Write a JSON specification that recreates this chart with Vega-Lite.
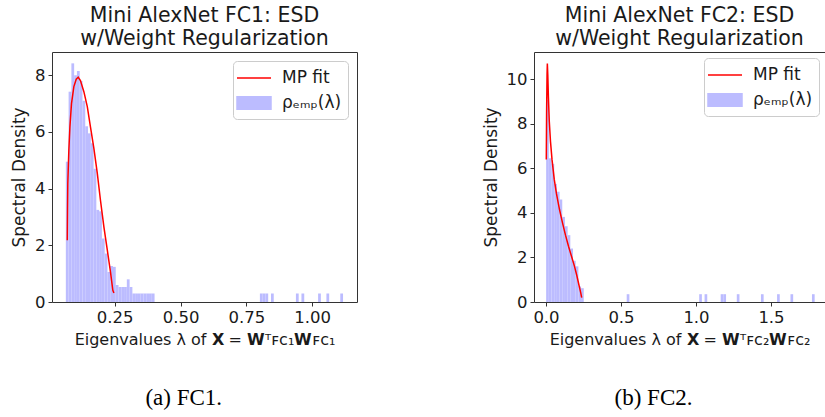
{
  "$schema": "https://vega.github.io/schema/vega-lite/v6.json",
  "padding": {"left": 10, "top": 5, "right": 0, "bottom": 0},
  "spacing": 123,
  "background": "white",
  "datasets": {
    "hist1": [
      {"lo": 0.0645, "hi": 0.0750, "density": 4.95},
      {"lo": 0.0750, "hi": 0.0856, "density": 7.42},
      {"lo": 0.0856, "hi": 0.0961, "density": 8.42},
      {"lo": 0.0961, "hi": 0.1066, "density": 8.0},
      {"lo": 0.1066, "hi": 0.1172, "density": 8.15},
      {"lo": 0.1172, "hi": 0.1277, "density": 7.8},
      {"lo": 0.1277, "hi": 0.1382, "density": 7.1},
      {"lo": 0.1382, "hi": 0.1487, "density": 6.2},
      {"lo": 0.1487, "hi": 0.1593, "density": 5.95},
      {"lo": 0.1593, "hi": 0.1698, "density": 5.6},
      {"lo": 0.1698, "hi": 0.1803, "density": 4.7},
      {"lo": 0.1803, "hi": 0.1909, "density": 3.25},
      {"lo": 0.1909, "hi": 0.2014, "density": 3.2},
      {"lo": 0.2014, "hi": 0.2119, "density": 2.24},
      {"lo": 0.2119, "hi": 0.2224, "density": 1.71},
      {"lo": 0.2224, "hi": 0.2330, "density": 1.06},
      {"lo": 0.2330, "hi": 0.2435, "density": 1.27},
      {"lo": 0.2435, "hi": 0.2540, "density": 1.24},
      {"lo": 0.2540, "hi": 0.2646, "density": 0.6},
      {"lo": 0.2646, "hi": 0.2751, "density": 0.53},
      {"lo": 0.2751, "hi": 0.2856, "density": 0.53},
      {"lo": 0.2856, "hi": 0.2961, "density": 0.53},
      {"lo": 0.2961, "hi": 0.3067, "density": 0.8},
      {"lo": 0.3067, "hi": 0.3172, "density": 0.53},
      {"lo": 0.3172, "hi": 0.3277, "density": 0.3},
      {"lo": 0.3277, "hi": 0.3383, "density": 0.3},
      {"lo": 0.3383, "hi": 0.3488, "density": 0.3},
      {"lo": 0.3488, "hi": 0.3593, "density": 0.3},
      {"lo": 0.3593, "hi": 0.3698, "density": 0.3},
      {"lo": 0.3698, "hi": 0.3804, "density": 0.3},
      {"lo": 0.3804, "hi": 0.3909, "density": 0.3},
      {"lo": 0.3909, "hi": 0.4014, "density": 0.3},
      {"lo": 0.8013, "hi": 0.8118, "density": 0.3},
      {"lo": 0.8118, "hi": 0.8223, "density": 0.3},
      {"lo": 0.8223, "hi": 0.8328, "density": 0.3},
      {"lo": 0.8434, "hi": 0.8539, "density": 0.3},
      {"lo": 0.9381, "hi": 0.9486, "density": 0.3},
      {"lo": 0.9591, "hi": 0.9697, "density": 0.3},
      {"lo": 1.0223, "hi": 1.0328, "density": 0.3},
      {"lo": 1.0539, "hi": 1.0644, "density": 0.3},
      {"lo": 1.1065, "hi": 1.1170, "density": 0.3}
    ],
    "curve1": [
      {"lam": 0.070, "density": 2.18},
      {"lam": 0.071, "density": 3.3},
      {"lam": 0.072, "density": 4.18},
      {"lam": 0.076, "density": 5.36},
      {"lam": 0.080, "density": 6.18},
      {"lam": 0.086, "density": 7.0},
      {"lam": 0.095, "density": 7.6},
      {"lam": 0.104, "density": 7.86},
      {"lam": 0.1115, "density": 7.93},
      {"lam": 0.120, "density": 7.81},
      {"lam": 0.133, "density": 7.42},
      {"lam": 0.146, "density": 6.89},
      {"lam": 0.158, "density": 6.18},
      {"lam": 0.171, "density": 5.42},
      {"lam": 0.184, "density": 4.54},
      {"lam": 0.196, "density": 3.59},
      {"lam": 0.209, "density": 2.65},
      {"lam": 0.222, "density": 1.83},
      {"lam": 0.234, "density": 1.06},
      {"lam": 0.243, "density": 0.41},
      {"lam": 0.247, "density": 0.32}
    ],
    "hist2": [
      {"lo": 0.0010, "hi": 0.0189, "density": 9.06},
      {"lo": 0.0189, "hi": 0.0368, "density": 6.45},
      {"lo": 0.0368, "hi": 0.0547, "density": 6.2},
      {"lo": 0.0547, "hi": 0.0726, "density": 5.3},
      {"lo": 0.0726, "hi": 0.0905, "density": 4.95},
      {"lo": 0.0905, "hi": 0.1084, "density": 4.6},
      {"lo": 0.1084, "hi": 0.1263, "density": 3.82},
      {"lo": 0.1263, "hi": 0.1442, "density": 3.4},
      {"lo": 0.1442, "hi": 0.1621, "density": 3.0},
      {"lo": 0.1621, "hi": 0.1800, "density": 2.4},
      {"lo": 0.1800, "hi": 0.1979, "density": 1.85},
      {"lo": 0.1979, "hi": 0.2158, "density": 1.6},
      {"lo": 0.2158, "hi": 0.2337, "density": 0.7},
      {"lo": 0.2337, "hi": 0.2516, "density": 0.62},
      {"lo": 0.5380, "hi": 0.5559, "density": 0.35},
      {"lo": 1.0213, "hi": 1.0392, "density": 0.35},
      {"lo": 1.0571, "hi": 1.0750, "density": 0.35},
      {"lo": 1.1645, "hi": 1.1824, "density": 0.35},
      {"lo": 1.1824, "hi": 1.2003, "density": 0.35},
      {"lo": 1.2719, "hi": 1.2898, "density": 0.35},
      {"lo": 1.4330, "hi": 1.4509, "density": 0.35},
      {"lo": 1.5404, "hi": 1.5583, "density": 0.35},
      {"lo": 1.6299, "hi": 1.6478, "density": 0.35},
      {"lo": 1.7731, "hi": 1.7910, "density": 0.35}
    ],
    "curve2": [
      {"lam": 0.002, "density": 6.4},
      {"lam": 0.004, "density": 8.5},
      {"lam": 0.007, "density": 10.2},
      {"lam": 0.009, "density": 10.7},
      {"lam": 0.012, "density": 10.2},
      {"lam": 0.016, "density": 9.2},
      {"lam": 0.022, "density": 8.1},
      {"lam": 0.030, "density": 7.2},
      {"lam": 0.040, "density": 6.4},
      {"lam": 0.055, "density": 5.5},
      {"lam": 0.070, "density": 4.85},
      {"lam": 0.090, "density": 4.15},
      {"lam": 0.110, "density": 3.55},
      {"lam": 0.130, "density": 3.0},
      {"lam": 0.150, "density": 2.5},
      {"lam": 0.170, "density": 2.05},
      {"lam": 0.190, "density": 1.6},
      {"lam": 0.205, "density": 1.2},
      {"lam": 0.220, "density": 0.75},
      {"lam": 0.232, "density": 0.4},
      {"lam": 0.238, "density": 0.2}
    ]
  },
  "config": {
    "font": "DejaVu Sans",
    "view": {"stroke": "#333333", "strokeWidth": 1},
    "axis": {
      "domain": false, "grid": false, "tickColor": "#333333", "tickSize": 4, "tickWidth": 1,
      "labelFont": "DejaVu Sans", "labelFontSize": 16.5, "labelColor": "#1a1a1a", "labelPadding": 3,
      "titleFont": "DejaVu Sans", "titleFontSize": 17, "titleFontWeight": "normal", "titleColor": "#1a1a1a",
      "labelFlush": false, "labelOverlap": false
    },
    "axisX": {"titlePadding": 6, "titleFontSize": 16},
    "axisY": {"titlePadding": 6},
    "title": {"font": "DejaVu Sans", "fontSize": 20.5, "fontWeight": "normal", "color": "#1a1a1a", "lineHeight": 23, "offset": 3, "anchor": "middle"},
    "legend": {
      "orient": "top-right", "offset": 9, "padding": 6, "strokeColor": "#cccccc", "fillColor": "#ffffff",
      "cornerRadius": 4, "labelFont": "DejaVu Sans", "labelFontSize": 17, "labelColor": "#1a1a1a",
      "symbolSize": 400, "rowPadding": 6, "labelOffset": 17
    }
  },
  "resolve": {"scale": {"color": "independent"}, "legend": {"color": "independent"}},
  "hconcat": [
    {
      "title": {"text": "(a) FC1.", "orient": "bottom", "font": "Liberation Serif", "fontSize": 23, "color": "#000000", "offset": 39, "anchor": "middle"},
      "resolve": {"scale": {"color": "independent"}, "legend": {"color": "independent"}},
      "vconcat": [
        {
          "title": {"text": ["Mini AlexNet FC1: ESD", "w/Weight Regularization"]},
          "width": 305,
          "height": 250,
          "layer": [
            {
              "data": {"name": "hist1"},
              "mark": {"type": "rect"},
              "encoding": {
                "x": {"field": "lo", "type": "quantitative", "scale": {"domain": [0.012, 1.17], "nice": false, "zero": false},
                      "axis": {"values": [0.25, 0.5, 0.75, 1.0], "format": ".2f", "title": "Eigenvalues λ of 𝗫 = 𝗪ᵀꜰᴄ₁𝗪ꜰᴄ₁"}},
                "x2": {"field": "hi"},
                "y": {"field": "density", "type": "quantitative", "scale": {"domain": [0, 8.82], "nice": false},
                      "axis": {"values": [0, 2, 4, 6, 8], "format": "d", "title": "Spectral Density"}},
                "y2": {"datum": 0},
                "color": {"datum": "ρₑₘₚ(λ)", "type": "nominal",
                  "scale": {"domain": ["MP fit", "ρₑₘₚ(λ)"], "range": ["#ff0000", "#bcbcff"]},
                  "legend": {"title": null, "symbolOffset": 4,
                    "encode": {"symbols": {"update": {
                      "shape": {"signal": "datum.value === 'MP fit' ? 'M-1.7,0H1.7' : 'M-1.7,-0.62H1.7V0.62H-1.7Z'"},
                      "fill": {"signal": "datum.value === 'MP fit' ? 'transparent' : '#bcbcff'"},
                      "stroke": {"signal": "datum.value === 'MP fit' ? '#ff0000' : 'transparent'"},
                      "strokeWidth": {"value": 1.5},
                      "opacity": {"value": 1}
                    }}}}}
              }
            },
            {
              "data": {"name": "curve1"},
              "mark": {"type": "line", "strokeWidth": 1.5},
              "encoding": {
                "x": {"field": "lam", "type": "quantitative"},
                "y": {"field": "density", "type": "quantitative"},
                "color": {"datum": "MP fit", "type": "nominal"}
              }
            }
          ]
        }
      ]
    },
    {
      "title": {"text": "(b) FC2.", "orient": "bottom", "font": "Liberation Serif", "fontSize": 23, "color": "#000000", "offset": 39, "anchor": "middle"},
      "resolve": {"scale": {"color": "independent"}, "legend": {"color": "independent"}},
      "vconcat": [
        {
          "title": {"text": ["Mini AlexNet FC2: ESD", "w/Weight Regularization"]},
          "width": 291,
          "height": 250,
          "layer": [
            {
              "data": {"name": "hist2"},
              "mark": {"type": "rect"},
              "encoding": {
                "x": {"field": "lo", "type": "quantitative", "scale": {"domain": [-0.08, 1.86], "nice": false, "zero": false},
                      "axis": {"values": [0, 0.5, 1.0, 1.5], "format": ".1f", "title": "Eigenvalues λ of 𝗫 = 𝗪ᵀꜰᴄ₂𝗪ꜰᴄ₂"}},
                "x2": {"field": "hi"},
                "y": {"field": "density", "type": "quantitative", "scale": {"domain": [0, 11.22], "nice": false},
                      "axis": {"values": [0, 2, 4, 6, 8, 10], "format": "d", "title": "Spectral Density"}},
                "y2": {"datum": 0},
                "color": {"datum": "ρₑₘₚ(λ)", "type": "nominal",
                  "scale": {"domain": ["MP fit", "ρₑₘₚ(λ)"], "range": ["#ff0000", "#bcbcff"]},
                  "legend": {"title": null, "symbolOffset": 4, "offset": 6,
                    "encode": {"symbols": {"update": {
                      "shape": {"signal": "datum.value === 'MP fit' ? 'M-1.7,0H1.7' : 'M-1.7,-0.62H1.7V0.62H-1.7Z'"},
                      "fill": {"signal": "datum.value === 'MP fit' ? 'transparent' : '#bcbcff'"},
                      "stroke": {"signal": "datum.value === 'MP fit' ? '#ff0000' : 'transparent'"},
                      "strokeWidth": {"value": 1.5},
                      "opacity": {"value": 1}
                    }}}}}
              }
            },
            {
              "data": {"name": "curve2"},
              "mark": {"type": "line", "strokeWidth": 1.5},
              "encoding": {
                "x": {"field": "lam", "type": "quantitative"},
                "y": {"field": "density", "type": "quantitative"},
                "color": {"datum": "MP fit", "type": "nominal"}
              }
            }
          ]
        }
      ]
    }
  ]
}
